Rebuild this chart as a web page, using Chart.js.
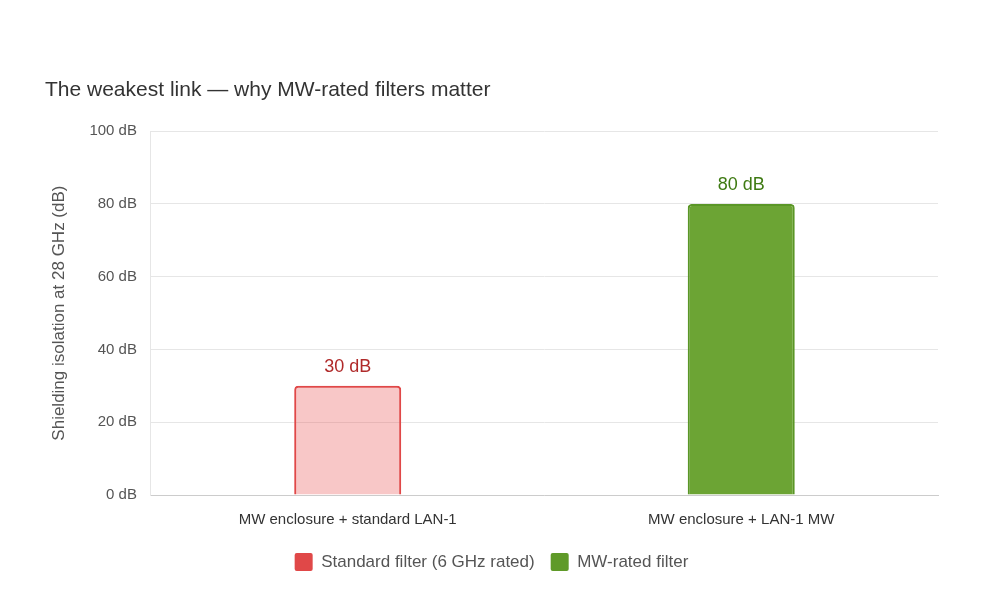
<!DOCTYPE html>
<html><head><meta charset="utf-8">
<script src="https://cdn.jsdelivr.net/npm/chart.js@4"></script>
<style>html,body{margin:0;background:#fff}#wrap{width:1000px;height:611px}</style>
</head><body><div id="wrap"><canvas id="c"></canvas></div>
<script>
const categories = ['MW enclosure + standard LAN-1', 'MW enclosure + LAN-1 MW'];
const standardValues = [30, null];
const mwValues = [null, 80];
const seriesNames = ['Standard filter (6 GHz rated)', 'MW-rated filter'];
const labelColors = ['#b02a2a', '#3e7a12'];
const legendColors = ['#e04848', '#5f9a28'];

const valueLabels = {
  id: 'valueLabels',
  afterDatasetsDraw(chart) {
    const ctx = chart.ctx;
    chart.data.datasets.forEach((ds, i) => {
      chart.getDatasetMeta(i).data.forEach((bar, j) => {
        if (ds.data[j] == null) return;
        ctx.save();
        ctx.fillStyle = labelColors[i];
        ctx.font = '18px "Liberation Sans", Arial, sans-serif';
        ctx.textAlign = 'center';
        ctx.textBaseline = 'bottom';
        ctx.fillText(ds.data[j] + ' dB', bar.x, bar.y - 10);
        ctx.restore();
      });
    });
  }
};

new Chart(document.getElementById('c'), {
  type: 'bar',
  data: {
    labels: categories,
    datasets: [
      { label: seriesNames[0], data: standardValues, backgroundColor: 'rgba(232,80,80,0.32)', borderColor: '#e04848', borderWidth: 2, borderRadius: 4, borderSkipped: 'bottom' },
      { label: seriesNames[1], data: mwValues, backgroundColor: '#6ca434', borderColor: '#5a9626', borderWidth: 2, borderRadius: 4, borderSkipped: 'bottom' }
    ]
  },
  options: {
    responsive: true,
    maintainAspectRatio: false,
    animation: false,
    skipNull: true,
    categoryPercentage: 0.8,
    barPercentage: 0.34,
    layout: { padding: { top: 78, left: 45, right: 62, bottom: 30 } },
    scales: {
      x: {
        grid: { display: false },
        border: { color: '#ccc' },
        ticks: { color: '#333', font: { size: 15, family: '"Liberation Sans", Arial' }, padding: 8 }
      },
      y: {
        min: 0, max: 100,
        ticks: { stepSize: 20, color: '#555', font: { size: 15, family: '"Liberation Sans", Arial' }, callback: v => v + ' dB', padding: 14 },
        grid: { color: '#e6e6e6', drawTicks: false },
        border: { display: true, color: '#e6e6e6' },
        title: { display: true, text: 'Shielding isolation at 28 GHz (dB)', color: '#555', font: { size: 17, family: '"Liberation Sans", Arial' }, padding: { bottom: 6 } }
      }
    },
    plugins: {
      title: { display: true, text: 'The weakest link — why MW-rated filters matter', align: 'start', color: '#333', font: { size: 21, weight: 'normal', family: '"Liberation Sans", Arial' }, padding: { bottom: 28 } },
      legend: {
        position: 'bottom',
        labels: {
          color: '#555', font: { size: 17, family: '"Liberation Sans", Arial' }, boxWidth: 18, boxHeight: 18, padding: 16,
          generateLabels: chart => chart.data.datasets.map((ds, i) => ({
            text: ds.label, fillStyle: legendColors[i], strokeStyle: legendColors[i], lineWidth: 0,
            fontColor: '#555', datasetIndex: i, borderRadius: 2
          }))
        }
      },
      tooltip: { enabled: false }
    }
  },
  plugins: [valueLabels]
});
</script></body></html>
